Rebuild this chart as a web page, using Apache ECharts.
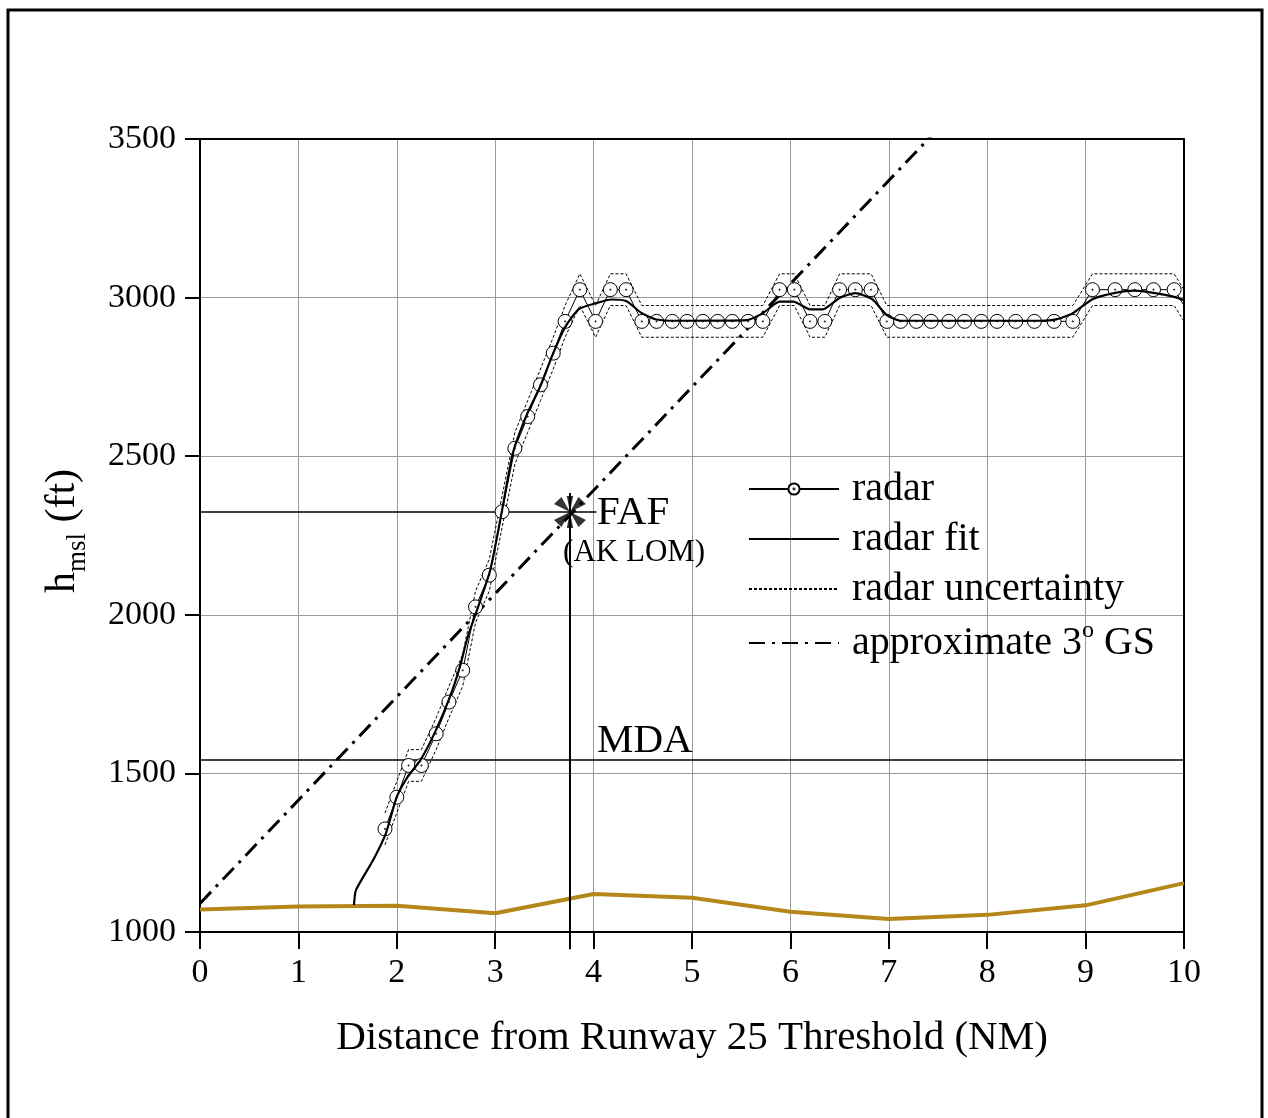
<!DOCTYPE html>
<html>
<head>
<meta charset="utf-8">
<script src="https://cdn.jsdelivr.net/npm/echarts@6/dist/echarts.min.js"></script>
<style>
  html, body { margin: 0; padding: 0; background: #fff; }
  #main { width: 1268px; height: 1118px; }
</style>
</head>
<body>
<div id="main"></div>
<script>
// radar returns (NM, ft)
var radarX = [1.88, 2.00, 2.12, 2.25, 2.40, 2.53, 2.67, 2.80, 2.94, 3.07, 3.20, 3.33, 3.46, 3.59, 3.71,
  3.86, 4.02, 4.17, 4.33, 4.49, 4.64, 4.80, 4.95, 5.11, 5.26, 5.41, 5.57, 5.72, 5.89, 6.04,
  6.20, 6.35, 6.50, 6.66, 6.82, 6.98, 7.12, 7.28, 7.43, 7.61, 7.77, 7.94, 8.10, 8.29, 8.48,
  8.68, 8.87, 9.07, 9.30, 9.50, 9.69, 9.90, 10.10];
var radarH = [1325, 1425, 1525, 1525, 1625, 1725, 1825, 2025, 2125, 2325, 2525, 2625, 2725, 2825, 2925,
  3025, 2925, 3025, 3025, 2925, 2925, 2925, 2925, 2925, 2925, 2925, 2925, 2925, 3025, 3025,
  2925, 2925, 3025, 3025, 3025, 2925, 2925, 2925, 2925, 2925, 2925, 2925, 2925, 2925, 2925,
  2925, 2925, 3025, 3025, 3025, 3025, 3025, 2925];
var radarHi = [1375, 1475, 1575, 1575, 1675, 1775, 1875, 2075, 2175, 2375, 2575, 2675, 2775, 2875, 2975,
  3075, 2975, 3075, 3075, 2975, 2975, 2975, 2975, 2975, 2975, 2975, 2975, 2975, 3075, 3075,
  2975, 2975, 3075, 3075, 3075, 2975, 2975, 2975, 2975, 2975, 2975, 2975, 2975, 2975, 2975,
  2975, 2975, 3075, 3075, 3075, 3075, 3075, 2975];
var radarLo = [1275, 1375, 1475, 1475, 1575, 1675, 1775, 1975, 2075, 2275, 2475, 2575, 2675, 2775, 2875,
  2975, 2875, 2975, 2975, 2875, 2875, 2875, 2875, 2875, 2875, 2875, 2875, 2875, 2975, 2975,
  2875, 2875, 2975, 2975, 2975, 2875, 2875, 2875, 2875, 2875, 2875, 2875, 2875, 2875, 2875,
  2875, 2875, 2975, 2975, 2975, 2975, 2975, 2875];

// radar fit
var fitX = [1.565, 1.585, 1.76, 1.89, 2.00, 2.11, 2.24, 2.39, 2.54, 2.64, 2.72, 2.805, 2.95, 3.07, 3.18,
  3.32, 3.455, 3.59, 3.71, 3.85, 4.03, 4.18, 4.33, 4.49, 4.64, 4.84, 5.56, 5.72, 5.89, 6.03,
  6.20, 6.33, 6.50, 6.66, 6.83, 6.98, 7.12, 8.54, 8.71, 8.87, 9.07, 9.30, 9.50, 9.69, 9.89, 10.0];
var fitH = [1085, 1132, 1227, 1312, 1426, 1489, 1542, 1631, 1741, 1835, 1930, 2006, 2141, 2330, 2510,
  2630, 2718, 2825, 2907, 2964, 2983, 2994, 2989, 2951, 2931, 2927, 2929, 2951, 2987, 2987,
  2963, 2963, 2999, 3014, 2995, 2945, 2927, 2927, 2932, 2951, 2995, 3015, 3022, 3015, 3003, 2992];

// approximate 3 deg glide slope
var gsX = [0, 10];
var gsH = [1090, 4346];

// terrain
var terrX = [0, 1, 2, 3, 4, 5, 6, 7, 8, 9, 10];
var terrH = [1071, 1080, 1083, 1059, 1120, 1108, 1064, 1041, 1054, 1084, 1154];

// FAF and MDA
var fafX = 3.76;
var fafH = 2324;
var fafLineEnd = 4.03;
var fafTop = 2384;
var fafBottom = 946;
var mdaH = 1542;

function pairs(xs, ys) {
  return xs.map(function (x, i) { return [x, ys[i]]; });
}

var FONT = 'Liberation Serif';
var starPath = 'path://M16,16L24,1L31,8ZM16,16L1,8L8,1ZM16,16L31,24L24,31ZM16,16L8,31L1,24ZM16,16L13,0L19,0ZM16,16L19,32L13,32Z';
var radarSym = 'path://M0,-7A7,7,0,1,1,0,7A7,7,0,1,1,0,-7ZM0,-0.6A0.6,0.6,0,1,1,0,0.6A0.6,0.6,0,1,1,0,-0.6Z';
var hidden = { color: 'rgba(0,0,0,0)', borderColor: 'rgba(0,0,0,0)', opacity: 0 };

var chart = echarts.init(document.getElementById('main'));

var option = {
  animation: false,
  backgroundColor: '#fff',
  grid: { left: 200, right: 84, top: 139, bottom: 186 },
  legend: {
    data: [
      { name: 'radar' },
      { name: 'radar fit', itemStyle: hidden },
      { name: 'radar uncertainty', itemStyle: hidden },
      { name: 'approximate 3° GS', itemStyle: hidden }
    ],
    orient: 'vertical',
    left: 748,
    top: 469,
    padding: 0,
    itemWidth: 90,
    itemHeight: 14,
    itemGap: 10,
    formatter: function (name) {
      if (name === 'approximate 3° GS') return 'approximate 3{sup|o} GS';
      return name;
    },
    textStyle: {
      fontFamily: FONT, fontSize: 40, color: '#000', padding: [0, 0, 0, 8],
      rich: {
        sup: { fontFamily: FONT, fontSize: 24, color: '#000', verticalAlign: 'top', lineHeight: 48 }
      }
    }
  },
  xAxis: [{
    type: 'value', min: 0, max: 10, interval: 1,
    axisLine: { lineStyle: { color: '#000', width: 2 } },
    axisTick: { length: 17, lineStyle: { color: '#000', width: 2 } },
    axisLabel: { fontFamily: FONT, fontSize: 34, color: '#000', margin: 24 },
    splitLine: { show: true, lineStyle: { color: '#999', width: 1 } },
    name: 'Distance from Runway 25 Threshold (NM)',
    nameLocation: 'middle',
    nameGap: 86,
    nameTextStyle: { fontFamily: FONT, fontSize: 41, color: '#000' }
  }, {
    type: 'value', min: 0, max: 10, position: 'top',
    axisLine: { onZero: false, lineStyle: { color: '#000', width: 2 } },
    axisTick: { show: false }, axisLabel: { show: false }, splitLine: { show: false }
  }],
  yAxis: [{
    type: 'value', min: 1000, max: 3500, interval: 500,
    axisLine: { show: true, lineStyle: { color: '#000', width: 2 } },
    axisTick: { show: true, length: 15, lineStyle: { color: '#000', width: 2 } },
    axisLabel: {
      fontFamily: FONT, fontSize: 34, color: '#000', margin: 24,
      formatter: function (v) { return String(v); }
    },
    splitLine: { show: true, lineStyle: { color: '#999', width: 1 } }
  }, {
    type: 'value', min: 1000, max: 3500, position: 'right',
    axisLine: { show: true, onZero: false, lineStyle: { color: '#000', width: 2 } },
    axisTick: { show: false }, axisLabel: { show: false }, splitLine: { show: false }
  }],
  series: [
    {
      name: 'terrain', type: 'line', data: pairs(terrX, terrH), symbol: 'none',
      lineStyle: { color: '#b5871b', width: 4 }, z: 3
    },
    {
      name: 'MDA', type: 'line', data: [[0, mdaH], [10, mdaH]], symbol: 'none',
      lineStyle: { color: '#000', width: 1.5 }, z: 3
    },
    {
      name: 'FAF h', type: 'line', data: [[0, fafH], [fafLineEnd, fafH]], symbol: 'none',
      lineStyle: { color: '#000', width: 1.5 }, z: 3
    },
    {
      name: 'FAF v', type: 'line', data: [[fafX, fafBottom], [fafX, fafTop]], symbol: 'none', clip: false,
      lineStyle: { color: '#000', width: 2 }, z: 3
    },
    {
      name: 'radar uncertainty', type: 'line', data: pairs(radarX, radarHi), symbol: 'none',
      itemStyle: { color: '#000' },
      lineStyle: { color: '#000', width: 1, type: [3, 2] }, z: 4
    },
    {
      name: 'radar uncertainty', type: 'line', data: pairs(radarX, radarLo), symbol: 'none',
      itemStyle: { color: '#000' },
      lineStyle: { color: '#000', width: 1, type: [3, 2] }, z: 4
    },
    {
      name: 'approximate 3° GS', type: 'line', data: pairs(gsX, gsH), symbol: 'none',
      itemStyle: { color: '#000' },
      lineStyle: { color: '#000', width: 3, type: [16, 7, 3, 7] }, z: 5
    },
    {
      name: 'radar', type: 'line', data: pairs(radarX, radarH),
      symbol: radarSym, symbolSize: 14, showAllSymbol: true,
      itemStyle: { color: '#fff', borderColor: '#000', borderWidth: 1 },
      lineStyle: { color: '#000', width: 1 }, z: 6
    },
    {
      name: 'radar fit', type: 'line', data: pairs(fitX, fitH), symbol: 'none', smooth: 0.2,
      itemStyle: { color: '#000' },
      lineStyle: { color: '#000', width: 2.2 }, z: 7
    },
    {
      name: 'FAF', type: 'scatter', data: [[fafX, fafH]], symbol: starPath, symbolSize: 32,
      itemStyle: { color: '#000' }, z: 8
    }
  ]
};

chart.setOption(option);

function px(x, y) {
  return chart.convertToPixel({ xAxisIndex: 0, yAxisIndex: 0 }, [x, y]);
}

var pFaf = px(4.035, 2321);
var pAk = px(3.69, 2195);
var pMda = px(4.035, 1602);

chart.setOption({
  graphic: [
    {
      type: 'rect', shape: { x: 8, y: 10, width: 1254, height: 1130 },
      style: { fill: null, stroke: '#000', lineWidth: 3 }, z: 100
    },
    {
      type: 'text', x: pFaf[0], y: pFaf[1],
      style: { text: 'FAF', fontFamily: FONT, fontSize: 41, fill: '#000', align: 'left', verticalAlign: 'middle' }
    },
    {
      type: 'text', x: pAk[0], y: pAk[1],
      style: { text: '(AK LOM)', fontFamily: FONT, fontSize: 31, fill: '#000', align: 'left', verticalAlign: 'middle' }
    },
    {
      type: 'text', x: pMda[0], y: pMda[1],
      style: { text: 'MDA', fontFamily: FONT, fontSize: 41, fill: '#000', align: 'left', verticalAlign: 'middle' }
    },
    {
      type: 'text', x: 63, y: 531, rotation: Math.PI / 2,
      style: {
        text: 'h{s|msl} (ft)', fontFamily: FONT, fontSize: 42, fill: '#000',
        align: 'center', verticalAlign: 'middle',
        rich: {
          s: { fontFamily: FONT, fontSize: 27, fill: '#000', lineHeight: 56, verticalAlign: 'bottom' }
        }
      }
    }
  ]
});
</script>
</body>
</html>
